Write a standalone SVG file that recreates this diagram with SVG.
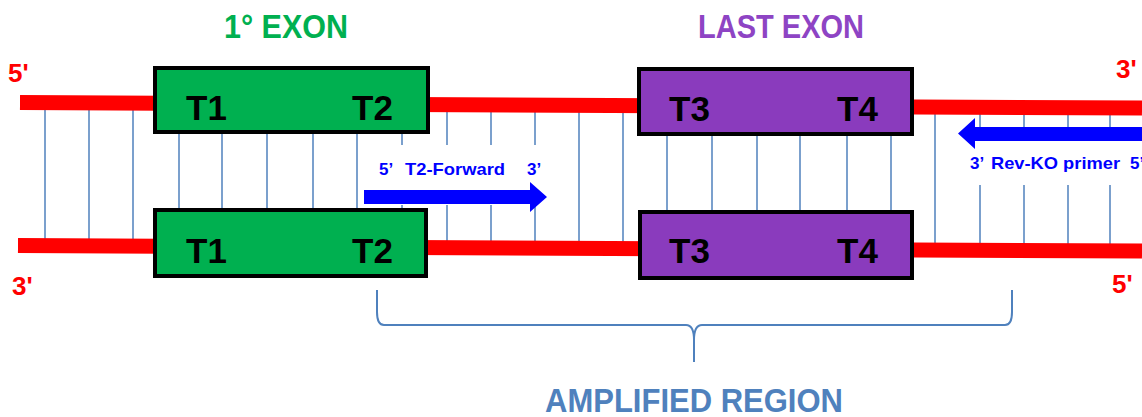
<svg xmlns="http://www.w3.org/2000/svg" width="1142" height="417" viewBox="0 0 1142 417">
<style>
.rung{stroke:#4f81bd;stroke-width:1.5}
.strand{stroke:#ff0000;stroke-width:15;fill:none}
.box{stroke:#000;stroke-width:4}
.green{fill:#00b050}
.purple{fill:#8a3bbd}
.t{font-family:"Liberation Sans",Arial,sans-serif;font-weight:bold;font-size:35px;fill:#000}
.end{font-family:"Liberation Sans",Arial,sans-serif;font-weight:bold;font-size:26px;fill:#ff0000}
.primer{font-family:"Liberation Sans",Arial,sans-serif;font-weight:bold;font-size:17px;fill:#0000ff}
.title{font-family:"Liberation Sans",Arial,sans-serif;font-weight:bold;font-size:33px}
</style>
<rect width="1142" height="417" fill="#fff"/>
<g id="rungs">
<line class="rung" x1="45" y1="103" x2="45" y2="245"/>
<line class="rung" x1="89" y1="103" x2="89" y2="245"/>
<line class="rung" x1="133" y1="103" x2="133" y2="245"/>
<line class="rung" x1="179" y1="104" x2="179" y2="246"/>
<line class="rung" x1="222" y1="104" x2="222" y2="246"/>
<line class="rung" x1="267" y1="104" x2="267" y2="246"/>
<line class="rung" x1="313" y1="104" x2="313" y2="246"/>
<line class="rung" x1="357" y1="104" x2="357" y2="246"/>
<line class="rung" x1="402" y1="104" x2="402" y2="247"/>
<line class="rung" x1="447" y1="105" x2="447" y2="247"/>
<line class="rung" x1="491" y1="105" x2="491" y2="247"/>
<line class="rung" x1="535" y1="105" x2="535" y2="247"/>
<line class="rung" x1="579" y1="105" x2="579" y2="247"/>
<line class="rung" x1="623" y1="105" x2="623" y2="247"/>
<line class="rung" x1="667" y1="105" x2="667" y2="248"/>
<line class="rung" x1="712" y1="105" x2="712" y2="248"/>
<line class="rung" x1="757" y1="106" x2="757" y2="248"/>
<line class="rung" x1="800" y1="106" x2="800" y2="248"/>
<line class="rung" x1="847" y1="106" x2="847" y2="249"/>
<line class="rung" x1="891" y1="106" x2="891" y2="249"/>
<line class="rung" x1="935" y1="107" x2="935" y2="249"/>
<line class="rung" x1="980" y1="107" x2="980" y2="249"/>
<line class="rung" x1="1024" y1="107" x2="1024" y2="250"/>
<line class="rung" x1="1068" y1="107" x2="1068" y2="250"/>
<line class="rung" x1="1110" y1="108" x2="1110" y2="250"/>
</g>
<g id="strands">
<line class="strand" x1="20" y1="102.5" x2="1142" y2="108"/>
<line class="strand" x1="18" y1="245.5" x2="1142" y2="251"/>
<text class="end" x="8" y="82">5'</text>
<text class="end" x="12" y="295">3'</text>
<text class="end" x="1116" y="78">3'</text>
<text class="end" x="1112" y="293">5'</text>
</g>
<g id="exon1-top">
<rect class="box green" x="155" y="68" width="273" height="64"/>
<text class="t" x="186" y="120">T1</text>
<text class="t" x="352" y="120">T2</text>
</g>
<g id="exon1-bottom">
<rect class="box green" x="155" y="210" width="271" height="66"/>
<text class="t" x="186" y="263">T1</text>
<text class="t" x="352" y="263">T2</text>
</g>
<g id="lastexon-top">
<rect class="box purple" x="639" y="69" width="273" height="65"/>
<text class="t" x="669" y="121">T3</text>
<text class="t" x="837" y="121">T4</text>
</g>
<g id="lastexon-bottom">
<rect class="box purple" x="640" y="212" width="272" height="66"/>
<text class="t" x="669" y="263">T3</text>
<text class="t" x="837" y="263">T4</text>
</g>
<g id="forward-primer">
<rect x="362" y="145" width="203" height="60" fill="#fff"/>
<polygon fill="#0000ff" points="364,190 530,190 530,182 547,197 530,212 530,204 364,204"/>
<text class="primer" x="379" y="175">5’</text>
<text class="primer" x="405" y="175" textLength="100" lengthAdjust="spacingAndGlyphs">T2-Forward</text>
<text class="primer" x="527" y="175">3’</text>
</g>
<g id="reverse-primer">
<rect x="958" y="127" width="184" height="58" fill="#fff"/>
<polygon fill="#0000ff" points="1142,127 975,127 975,118 958,133.5 975,149 975,141 1142,141"/>
<text class="primer" x="970" y="169">3’</text>
<text class="primer" x="991" y="169" textLength="129" lengthAdjust="spacingAndGlyphs">Rev-KO primer</text>
<text class="primer" x="1130" y="169">5’</text>
</g>
<g id="labels">
<text class="title" x="224" y="38" fill="#00b050" textLength="124" lengthAdjust="spacingAndGlyphs">1° EXON</text>
<text class="title" x="698" y="38" fill="#8e44c4" textLength="166" lengthAdjust="spacingAndGlyphs">LAST EXON</text>
</g>
<g id="amplified-region">
<path d="M377,290 L377,312 Q377,325 384,325 L686,325 Q694,325 694,340 L694,362 M694,340 Q694,325 702,325 L1005,325 Q1012,325 1012,312 L1012,290" fill="none" stroke="#4f81bd" stroke-width="2"/>
<text class="title" x="545" y="412" fill="#4f81bd" textLength="298" lengthAdjust="spacingAndGlyphs">AMPLIFIED REGION</text>
</g>
</svg>
